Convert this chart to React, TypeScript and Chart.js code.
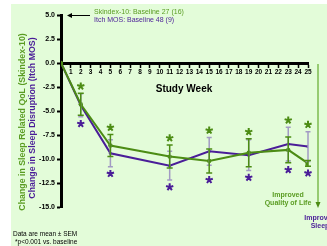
import React, { useEffect, useRef } from 'react';
import { Chart, registerables } from 'chart.js';

Chart.register(...registerables);

const FONT = "'Liberation Sans', Arial, Helvetica, sans-serif";

// ---- data ----
const weeks = [0, 2, 5, 11, 15, 19, 23, 25];
const skindexMean = [0, -4.3, -8.6, -9.75, -10.2, -9.35, -9.05, -10.45];
const skindexSem = [0, 1.15, 1.15, 1.2, 1.25, 1.45, 1.35, 0.3];
const itchMean = [0, -4.4, -9.4, -10.7, -9.2, -9.6, -8.45, -8.7];
const itchSem = [0, 1.2, 1.4, 1.5, 1.45, 1.6, 1.75, 1.55];
const significant = [false, true, true, true, true, true, true, true];
const yTicks = [5, 2.5, 0, -2.5, -5, -7.5, -10, -12.5, -15];
const xMin = 0;
const xMax = 25;

const legendSkindex = 'Skindex-10: Baseline 27 (16)';
const legendItch = 'Itch MOS: Baseline 48 (9)';
const yTitleSkindex = 'Change in Sleep Related QoL (Skindex-10)';
const yTitleItch = 'Change in Sleep Disruption (Itch MOS)';
const xTitle = 'Study Week';
const notes = ['Data are mean \u00b1 SEM', '*p<0.001 vs. baseline'];

const GREEN = '#4c8c14';
const GREEN_TEXT = '#5a9c22';
const PURPLE = '#4a1d98';
const PURPLE_BAR = '#a29ac4';
const BG = '#e3fcd9';

function drawAsterisk(ctx: CanvasRenderingContext2D, x: number, y: number, color: string) {
  ctx.save();
  ctx.strokeStyle = color;
  ctx.lineWidth = 2;
  ctx.lineCap = 'butt';
  const r = 3.8;
  ctx.beginPath();
  for (let k = 0; k < 5; k++) {
    const a = -Math.PI / 2 + (k * 2 * Math.PI) / 5;
    ctx.moveTo(x, y);
    ctx.lineTo(x + r * Math.cos(a), y + r * Math.sin(a));
  }
  ctx.stroke();
  ctx.restore();
}

function drawErr(ctx: CanvasRenderingContext2D, x: number, yTop: number, yBot: number, color: string, lw: number, cap: number) {
  ctx.save();
  ctx.strokeStyle = color;
  ctx.lineWidth = lw;
  ctx.beginPath();
  ctx.moveTo(x, yTop);
  ctx.lineTo(x, yBot);
  ctx.moveTo(x - cap, yTop);
  ctx.lineTo(x + cap, yTop);
  ctx.moveTo(x - cap, yBot);
  ctx.lineTo(x + cap, yBot);
  ctx.stroke();
  ctx.restore();
}

const annotate = {
  id: 'annotate',
  beforeDraw(chart: any) {
    const ctx = chart.ctx as CanvasRenderingContext2D;
    ctx.save();
    ctx.fillStyle = BG;
    ctx.fillRect(11, 4, chart.width - 11, chart.height - 4);
    ctx.restore();
  },
  afterDatasetsDraw(chart: any) {
    const ctx = chart.ctx as CanvasRenderingContext2D;
    const xs = chart.scales.x;
    const ys = chart.scales.y;
    weeks.forEach((w, i) => {
      if (itchSem[i] > 0) {
        drawErr(ctx, xs.getPixelForValue(w), ys.getPixelForValue(itchMean[i] + itchSem[i]), ys.getPixelForValue(itchMean[i] - itchSem[i]), PURPLE_BAR, 1.5, 2.5);
      }
    });
    weeks.forEach((w, i) => {
      if (skindexSem[i] > 0) {
        drawErr(ctx, xs.getPixelForValue(w), ys.getPixelForValue(skindexMean[i] + skindexSem[i]), ys.getPixelForValue(skindexMean[i] - skindexSem[i]), GREEN, 1.5, 3);
      }
    });
    weeks.forEach((w, i) => {
      if (!significant[i]) return;
      const x = xs.getPixelForValue(w);
      const top = Math.min(ys.getPixelForValue(skindexMean[i] + skindexSem[i]), ys.getPixelForValue(itchMean[i] + itchSem[i]));
      const bot = Math.max(ys.getPixelForValue(skindexMean[i] - skindexSem[i]), ys.getPixelForValue(itchMean[i] - itchSem[i]));
      drawAsterisk(ctx, x, top - 7, GREEN);
      drawAsterisk(ctx, x, bot + 7, PURPLE);
    });
  },
  afterDraw(chart: any) {
    const ctx = chart.ctx as CanvasRenderingContext2D;
    ctx.save();
    // y titles
    ctx.textAlign = 'center';
    ctx.textBaseline = 'middle';
    ctx.font = `bold 8.8px ${FONT}`;
    ctx.save();
    ctx.translate(23, 122);
    ctx.rotate(-Math.PI / 2);
    ctx.fillStyle = GREEN_TEXT;
    ctx.fillText(yTitleSkindex, 0, 0);
    ctx.restore();
    ctx.save();
    ctx.translate(33, 118);
    ctx.rotate(-Math.PI / 2);
    ctx.fillStyle = PURPLE;
    ctx.fillText(yTitleItch, 0, 0);
    ctx.restore();

    // x title
    ctx.fillStyle = '#000';
    ctx.font = `bold 10px ${FONT}`;
    ctx.fillText(xTitle, 184, 89);

    // legend
    ctx.strokeStyle = '#000';
    ctx.lineWidth = 1;
    ctx.beginPath();
    ctx.moveTo(90, 15.5);
    ctx.lineTo(69, 15.5);
    ctx.stroke();
    ctx.fillStyle = '#000';
    ctx.beginPath();
    ctx.moveTo(67, 15.5);
    ctx.lineTo(72, 13);
    ctx.lineTo(72, 18);
    ctx.closePath();
    ctx.fill();
    ctx.textAlign = 'left';
    ctx.font = `7px ${FONT}`;
    ctx.fillStyle = GREEN_TEXT;
    ctx.fillText(legendSkindex, 94, 12.5);
    ctx.fillStyle = PURPLE;
    ctx.fillText(legendItch, 94, 20.5);

    // improvement arrows
    ctx.strokeStyle = '#7dbb4f';
    ctx.lineWidth = 1.5;
    ctx.beginPath();
    ctx.moveTo(318, 64);
    ctx.lineTo(318, 203);
    ctx.stroke();
    ctx.fillStyle = GREEN;
    ctx.beginPath();
    ctx.moveTo(318, 208);
    ctx.lineTo(315.5, 202);
    ctx.lineTo(320.5, 202);
    ctx.closePath();
    ctx.fill();

    ctx.textAlign = 'center';
    ctx.font = `bold 7px ${FONT}`;
    ctx.fillStyle = GREEN_TEXT;
    ctx.fillText('Improved', 288, 195);
    ctx.fillText('Quality of Life', 288, 203);
    ctx.fillStyle = PURPLE;
    ctx.fillText('Improved', 320, 218);
    ctx.fillText('Sleep', 320, 226);

    // notes
    ctx.textAlign = 'left';
    ctx.fillStyle = '#000';
    ctx.font = `6.5px ${FONT}`;
    ctx.fillText(notes[0], 13, 234);
    ctx.fillText(notes[1], 15, 242.5);
    ctx.restore();
  },
};

export default function App() {
  const ref = useRef<HTMLCanvasElement>(null);
  useEffect(() => {
    document.body.style.margin = '0';
    if (!ref.current) return;
    Chart.defaults.font.family = FONT;
    const chart = new Chart(ref.current, {
      type: 'line',
      data: {
        datasets: [
          {
            label: 'Skindex-10',
            data: weeks.map((w, i) => ({ x: w, y: skindexMean[i] })),
            borderColor: GREEN,
            backgroundColor: GREEN,
            borderWidth: 2,
            pointRadius: weeks.map((_, i) => (i === weeks.length - 1 ? 3.6 : 2.2)),
            pointStyle: weeks.map((_, i) => (i === weeks.length - 1 ? 'rect' : 'circle')) as any,
            pointBorderWidth: 0,
            tension: 0,
            order: 0,
          },
          {
            label: 'Itch MOS',
            data: weeks.map((w, i) => ({ x: w, y: itchMean[i] })),
            borderColor: PURPLE,
            backgroundColor: PURPLE,
            borderWidth: 2,
            pointRadius: 1.5,
            pointBorderWidth: 0,
            tension: 0,
            order: 1,
          },
        ],
      },
      options: {
        animation: false,
        responsive: false,
        maintainAspectRatio: false,
        layout: { padding: { left: 0, top: 15, right: 19, bottom: 39 } },
        plugins: { legend: { display: false }, tooltip: { enabled: false } },
        scales: {
          x: {
            type: 'linear',
            min: xMin,
            max: xMax,
            position: { y: 0 } as any,
            afterFit: (s: any) => {
              s.height = 0;
            },
            ticks: {
              stepSize: 1,
              autoSkip: false,
              maxRotation: 0,
              padding: 2,
              color: '#000',
              font: { size: 6.5, weight: 'bold', family: FONT },
              callback: (v: any) => (Number(v) === 0 ? '' : String(v)),
            },
            grid: { drawOnChartArea: false, drawTicks: true, tickLength: 3, tickWidth: 1.5, color: '#000' },
            border: { display: true, color: '#000', width: 3 },
          },
          y: {
            type: 'linear',
            min: Math.min(...yTicks),
            max: Math.max(...yTicks),
            afterFit: (s: any) => {
              s.width = 61;
            },
            afterBuildTicks: (s: any) => {
              s.ticks = yTicks.map((v) => ({ value: v }));
            },
            ticks: {
              padding: 2,
              color: '#000',
              font: { size: 7, weight: 'bold', family: FONT },
              callback: (v: any) => Number(v).toFixed(1),
            },
            grid: { drawOnChartArea: false, drawTicks: true, tickLength: 4, tickWidth: 2, color: '#000' },
            border: { display: true, color: '#000', width: 3 },
          },
        },
      },
      plugins: [annotate],
    });
    return () => chart.destroy();
  }, []);
  return (
    <div style={{ position: 'absolute', left: 0, top: 0, width: 327, height: 246 }}>
      <canvas ref={ref} width={327} height={246} style={{ display: 'block' }} />
    </div>
  );
}
